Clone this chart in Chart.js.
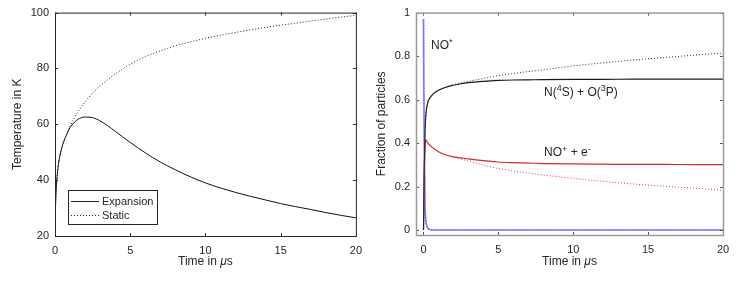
<!DOCTYPE html>
<html>
<head>
<meta charset="utf-8">
<script src="https://cdn.jsdelivr.net/npm/chart.js@4/dist/chart.umd.min.js"></script>
<style>
  html, body { margin: 0; padding: 0; background: #fff; }
  #wrap { width: 747px; height: 284px; position: relative; }
  .box { position: absolute; top: 0; height: 284px; }
  #left { left: 0; width: 370px; }
  #right { left: 370px; width: 377px; }
</style>
</head>
<body>
<div id="wrap">
  <div class="box" id="left"><canvas id="tempChart"></canvas></div>
  <div class="box" id="right"><canvas id="fracChart"></canvas></div>
</div>
<script>
/* ================= DATA ================= */

// left panel: temperature (K) vs time (µs)
const timeLeft = [0, 0.02, 0.05, 0.1, 0.2, 0.3, 0.5, 0.75, 1, 1.25, 1.5, 2, 2.5, 3, 3.5, 4,
  5, 6, 7, 8, 9, 10, 11, 12, 13, 14, 15, 16, 17, 18, 19, 20];
const expansionTemp = [20, 27, 33, 38.5, 44.5, 48, 52.5, 56, 58.8, 60.5, 61.7, 62.6, 62.4, 61.2, 59.5, 57.5,
  53.5, 49.8, 46.5, 43.7, 41.2, 39, 37.2, 35.6, 34.2, 32.9, 31.6, 30.5, 29.5, 28.4, 27.4, 26.5];
const staticTemp = [20, 27, 33, 38.5, 44.5, 48, 52.5, 56, 59.5, 62, 64.3, 68, 71.2, 73.8, 76, 78,
  81.5, 84.2, 86.3, 88.1, 89.5, 90.8, 91.9, 92.9, 93.8, 94.7, 95.5, 96.2, 97, 97.7, 98.4, 99];
const legendLabels = ['Expansion', 'Static'];

// right panel: fraction of particles vs time (µs)
const timeRight = [0, 0.02, 0.05, 0.1, 0.15, 0.2, 0.3, 0.4, 0.5, 0.75, 1, 1.5, 2, 2.5, 3, 4,
  5, 6, 7, 8, 10, 12, 14, 16, 18, 20];
const n4sExpansion = [0, 0.1, 0.28, 0.45, 0.52, 0.555, 0.59, 0.605, 0.615, 0.632, 0.643, 0.657, 0.666, 0.673, 0.678, 0.684,
  0.688, 0.69, 0.691, 0.692, 0.693, 0.693, 0.694, 0.694, 0.694, 0.694];
const n4sStatic = [0, 0.1, 0.28, 0.45, 0.52, 0.555, 0.59, 0.605, 0.615, 0.632, 0.643, 0.657, 0.668, 0.677, 0.684, 0.697,
  0.71, 0.72, 0.729, 0.737, 0.755, 0.769, 0.782, 0.793, 0.804, 0.814];
const noPlusExpansion = [0, 0.1, 0.25, 0.38, 0.415, 0.41, 0.4, 0.392, 0.385, 0.372, 0.36, 0.345, 0.337, 0.332, 0.327, 0.319,
  0.313, 0.31, 0.308, 0.306, 0.304, 0.303, 0.302, 0.302, 0.301, 0.301];
const noPlusStatic = [0, 0.1, 0.25, 0.38, 0.415, 0.41, 0.4, 0.392, 0.385, 0.372, 0.36, 0.345, 0.335, 0.326, 0.318, 0.299,
  0.283, 0.272, 0.262, 0.253, 0.238, 0.224, 0.212, 0.202, 0.193, 0.183];
const noStar = [0.97, 0.7, 0.4, 0.12, 0.05, 0.025, 0.008, 0.003, 0.001, 0, 0, 0, 0, 0, 0, 0,
  0, 0, 0, 0, 0, 0, 0, 0, 0, 0];

// species labels, split into [text, superscript?] runs
const labelNoStar = [['NO'], ['*', true]];
const labelN4s = [['N('], ['4', true], ['S) + O('], ['3', true], ['P)']];
const labelNoPlus = [['NO'], ['+', true], [' + e'], ['-', true]];

const xTicks = [0, 5, 10, 15, 20];
const tempTicks = [20, 40, 60, 80, 100];
const fracTicks = [0, 0.2, 0.4, 0.6, 0.8, 1];

/* ================= HELPERS ================= */

const FONT = '"Liberation Sans", Arial, Helvetica, sans-serif';
const TEXT = '#262626';

function pts(xs, ys) {
  return xs.map((x, i) => ({ x, y: ys[i] }));
}

function line(label, data, color, dotted, width) {
  return {
    label,
    data,
    borderColor: color,
    borderWidth: width || 1,
    borderDash: dotted ? [1, 2] : [],
    pointRadius: 0,
    fill: false,
    cubicInterpolationMode: 'monotone'
  };
}

function drawRuns(ctx, runs, x, y) {
  let cx = x;
  runs.forEach(([txt, sup]) => {
    ctx.font = (sup ? '9px ' : '12px ') + FONT;
    ctx.fillText(txt, cx, sup ? y - 4 : y);
    cx += ctx.measureText(txt).width;
  });
}

// frame, inward ticks on all four sides, axis titles, annotations, inset legend
const matlabFrame = {
  id: 'matlabFrame',
  afterDatasetsDraw(chart, args, o) {
    const { ctx, chartArea: a, scales: { x, y } } = chart;
    ctx.save();

    ctx.strokeStyle = o.tickColor;
    ctx.lineWidth = 1;
    ctx.beginPath();
    x.ticks.forEach(t => {
      const px = Math.round(x.getPixelForValue(t.value)) + 0.5;
      ctx.moveTo(px, a.bottom); ctx.lineTo(px, a.bottom - 3);
      ctx.moveTo(px, a.top); ctx.lineTo(px, a.top + 3);
    });
    y.ticks.forEach(t => {
      const py = Math.round(y.getPixelForValue(t.value)) + 0.5;
      ctx.moveTo(a.left, py); ctx.lineTo(a.left + 3, py);
      ctx.moveTo(a.right, py); ctx.lineTo(a.right - 3, py);
    });
    ctx.stroke();

    ctx.strokeStyle = o.frameColor;
    ctx.lineWidth = o.frameWidth;
    ctx.strokeRect(a.left + 0.5, a.top + 0.5, a.width, a.height);

    // x title with italic mu
    ctx.fillStyle = TEXT;
    ctx.textBaseline = 'middle';
    const parts = [['Time in ', '12px ' + FONT], ['\u03bc', 'italic 12px ' + FONT], ['s', '12px ' + FONT]];
    let total = 0;
    parts.forEach(p => { ctx.font = p[1]; total += ctx.measureText(p[0]).width; });
    let cx = (a.left + a.right) / 2 - total / 2;
    ctx.textAlign = 'left';
    parts.forEach(p => { ctx.font = p[1]; ctx.fillText(p[0], cx, o.xTitleY); cx += ctx.measureText(p[0]).width; });

    // y title
    ctx.save();
    ctx.font = '12px ' + FONT;
    ctx.translate(o.yTitleX, (a.top + a.bottom) / 2);
    ctx.rotate(-Math.PI / 2);
    ctx.textAlign = 'center';
    ctx.fillText(o.yTitle, 0, 0);
    ctx.restore();

    // annotations
    ctx.textAlign = 'left';
    (o.notes || []).forEach(n => {
      drawRuns(ctx, n.runs, x.getPixelForValue(n.x), y.getPixelForValue(n.y));
    });

    // inset legend
    if (o.legend) {
      const lx = a.left + 13, ly = a.bottom - 46;
      ctx.fillStyle = '#fff';
      ctx.fillRect(lx, ly, 89, 34);
      ctx.strokeStyle = TEXT;
      ctx.lineWidth = 1;
      ctx.strokeRect(lx + 0.5, ly + 0.5, 89, 34);
      ctx.font = '11px ' + FONT;
      o.legend.forEach((item, i) => {
        const ry = ly + 11 + i * 14 + 0.5;
        ctx.strokeStyle = TEXT;
        ctx.setLineDash(item.dotted ? [1, 2] : []);
        ctx.beginPath();
        ctx.moveTo(lx + 3, ry); ctx.lineTo(lx + 31, ry);
        ctx.stroke();
        ctx.fillStyle = TEXT;
        ctx.fillText(item.text, lx + 34, ry);
      });
      ctx.setLineDash([]);
    }
    ctx.restore();
  }
};

function makeChart(id, datasets, cfg) {
  return new Chart(document.getElementById(id), {
    type: 'line',
    data: { datasets },
    plugins: [matlabFrame],
    options: {
      responsive: true,
      maintainAspectRatio: false,
      animation: false,
      layout: { padding: { top: cfg.top, right: cfg.right, left: 0, bottom: 0 } },
      plugins: {
        legend: { display: false },
        tooltip: { enabled: false },
        matlabFrame: cfg.frame
      },
      scales: {
        x: {
          type: 'linear',
          min: cfg.xMin, max: 20,
          grid: { display: false, drawTicks: false },
          border: { display: false },
          afterBuildTicks: s => { s.ticks = xTicks.map(v => ({ value: v })); },
          afterFit: s => { s.height = cfg.xHeight; },
          ticks: { color: TEXT, font: { family: FONT, size: 11 }, padding: 8, maxRotation: 0,
            callback: v => String(v) }
        },
        y: {
          min: cfg.yMin, max: cfg.yMax,
          grid: { display: false, drawTicks: false },
          border: { display: false },
          afterBuildTicks: s => { s.ticks = cfg.yTicks.map(v => ({ value: v })); },
          afterFit: s => { s.width = cfg.yWidth; },
          ticks: { color: TEXT, font: { family: FONT, size: 11 }, padding: 6,
            callback: v => String(v) }
        }
      }
    }
  });
}

/* ================= LEFT: TEMPERATURE ================= */

makeChart('tempChart', [
  line(legendLabels[1], pts(timeLeft, staticTemp), '#222', true),
  line(legendLabels[0], pts(timeLeft, expansionTemp), '#111', false)
], {
  top: 11, right: 9, xHeight: 48, yWidth: 55,
  xMin: 0, yMin: 20, yMax: 100, yTicks: tempTicks,
  frame: {
    tickColor: TEXT, frameColor: TEXT, frameWidth: 1,
    xTitleY: 262, yTitleX: 18, yTitle: 'Temperature in K',
    legend: [
      { text: legendLabels[0], dotted: false },
      { text: legendLabels[1], dotted: true }
    ]
  }
});

/* ================= RIGHT: FRACTIONS ================= */

makeChart('fracChart', [
  line('N static', pts(timeRight, n4sStatic), '#333', true),
  line('NO+ static', pts(timeRight, noPlusStatic), '#e03a3a', true),
  line('NO* static', pts(timeRight, noStar), 'rgba(120,120,255,0.8)', true, 2),
  line('N expansion', pts(timeRight, n4sExpansion), '#1a1a1a', false, 1.2),
  line('NO+ expansion', pts(timeRight, noPlusExpansion), '#d42a2a', false, 1.2),
  line('NO* expansion', pts(timeRight, noStar), 'rgba(70,70,255,0.75)', false, 1.5)
], {
  top: 8, right: 24, xHeight: 49, yWidth: 46,
  xMin: -0.5, yMin: -0.0226, yMax: 1, yTicks: fracTicks,
  frame: {
    tickColor: '#555', frameColor: '#9a9a9a', frameWidth: 1.5,
    xTitleY: 262, yTitleX: 12, yTitle: 'Fraction of particles',
    notes: [
      { runs: labelNoStar, x: 0.5, y: 0.846 },
      { runs: labelN4s, x: 8.05, y: 0.633 },
      { runs: labelNoPlus, x: 8.05, y: 0.354 }
    ]
  }
});
</script>
</body>
</html>
